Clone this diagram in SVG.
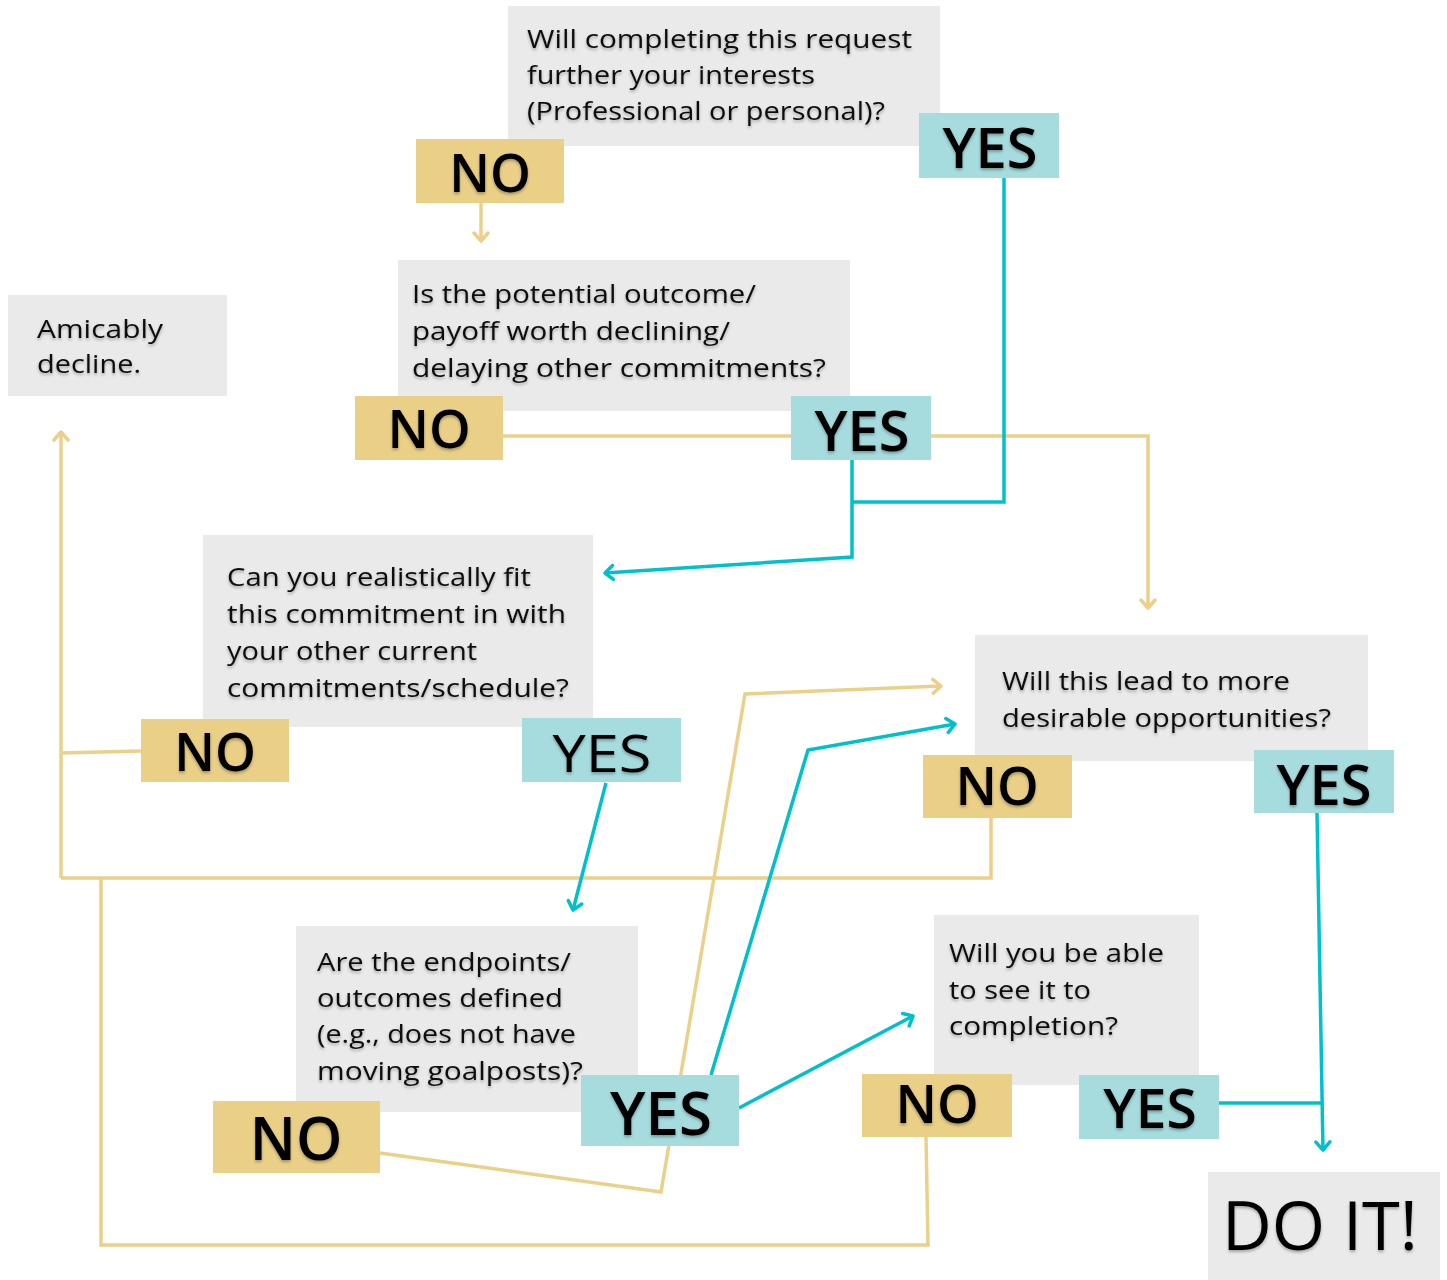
<svg xmlns="http://www.w3.org/2000/svg" width="1447" height="1280" viewBox="0 0 1447 1280">
<defs>
<filter id="sh" x="-10%" y="-20%" width="120%" height="150%">
<feDropShadow dx="0" dy="2" stdDeviation="1.5" flood-color="#000" flood-opacity="0.3"/>
</filter>
<marker id="ag" viewBox="0 0 20 20" refX="10" refY="10" markerWidth="20" markerHeight="20" markerUnits="userSpaceOnUse" orient="auto">
<path d="M2,3 L10,10 L2,17" fill="none" stroke="#EBD08A" stroke-width="3.5" stroke-linecap="round" stroke-linejoin="round"/>
</marker>
<marker id="at" viewBox="0 0 20 20" refX="10" refY="10" markerWidth="20" markerHeight="20" markerUnits="userSpaceOnUse" orient="auto">
<path d="M2,3 L10,10 L2,17" fill="none" stroke="#00C0CC" stroke-width="3.5" stroke-linecap="round" stroke-linejoin="round"/>
</marker>
</defs>
<style>
.box{fill:#EAEAEA}
.no{fill:#EACF87}
.yes{fill:#A6DCDE}
.t{font-family:"Open Sans","Liberation Sans",sans-serif;font-size:26px;fill:#111;filter:url(#sh)}
.lb{font-family:"Open Sans","Liberation Sans",sans-serif;font-weight:600;fill:#000;text-anchor:middle;filter:url(#sh)}
.lb.reg{font-weight:400}
.g{fill:none;stroke:#EBD08A;stroke-width:3.5}
.c{fill:none;stroke:#00C0CC;stroke-width:3.5}
</style>
<rect width="1447" height="1280" fill="#fff"/>

<g id="connectors">
<path class="g" d="M481,203 V241" marker-end="url(#ag)"/>
<path class="g" d="M503,436 H791"/>
<path class="g" d="M931,436 H1148 V608" marker-end="url(#ag)"/>
<path class="c" d="M1004,178 V502 H852"/>
<path class="c" d="M852,460 V557 L605,573" marker-end="url(#at)"/>
<path class="g" d="M141,751 L61,753"/>
<path class="g" d="M61,878 V432" marker-end="url(#ag)"/>
<path class="g" d="M991,818 V878 H61"/>
<path class="g" d="M101,878 V1245 H928 L926,1137"/>
<path class="c" d="M606,783 L573,910" marker-end="url(#at)"/>
<path class="g" d="M380,1153 L661,1192 L745,694 L941,686" marker-end="url(#ag)"/>
<path class="c" d="M711,1075 L808,750 L955,724" marker-end="url(#at)"/>
<path class="c" d="M739,1108 L913,1016" marker-end="url(#at)"/>
<path class="c" d="M1219,1103 H1322"/>
<path class="c" d="M1317,813 L1323,1150" marker-end="url(#at)"/>
</g>

<g id="q1">
<rect class="box" x="508" y="6" width="432" height="140"/>
<text class="t" x="527" y="48" textLength="385" lengthAdjust="spacingAndGlyphs">Will completing this request</text>
<text class="t" x="527" y="84" textLength="288" lengthAdjust="spacingAndGlyphs">further your interests</text>
<text class="t" x="527" y="120" textLength="358" lengthAdjust="spacingAndGlyphs">(Professional or personal)?</text>
</g>
<g id="q1-no">
<rect class="no" x="416" y="139" width="148" height="64"/>
<text class="lb" x="490" y="192" font-size="52">NO</text>
</g>
<g id="q1-yes">
<rect class="yes" x="919" y="113" width="140" height="65"/>
<text class="lb" x="990" y="168" font-size="56">YES</text>
</g>

<g id="q2">
<rect class="box" x="398" y="260" width="452" height="151"/>
<text class="t" x="412" y="303" textLength="344" lengthAdjust="spacingAndGlyphs">Is the potential outcome/</text>
<text class="t" x="412" y="340" textLength="318" lengthAdjust="spacingAndGlyphs">payoff worth declining/</text>
<text class="t" x="412" y="377" textLength="414" lengthAdjust="spacingAndGlyphs">delaying other commitments?</text>
</g>
<g id="q2-no">
<rect class="no" x="355" y="396" width="148" height="64"/>
<text class="lb" x="429" y="448" font-size="53">NO</text>
</g>
<g id="q2-yes">
<rect class="yes" x="791" y="396" width="140" height="64"/>
<text class="lb" x="862" y="451" font-size="56">YES</text>
</g>

<g id="decline">
<rect class="box" x="8" y="295" width="219" height="101"/>
<text class="t" x="37" y="338" textLength="126" lengthAdjust="spacingAndGlyphs">Amicably</text>
<text class="t" x="37" y="373" textLength="104" lengthAdjust="spacingAndGlyphs">decline.</text>
</g>

<g id="q3">
<rect class="box" x="203" y="535" width="390" height="192"/>
<text class="t" x="227" y="586" textLength="304" lengthAdjust="spacingAndGlyphs">Can you realistically fit</text>
<text class="t" x="227" y="623" textLength="339" lengthAdjust="spacingAndGlyphs">this commitment in with</text>
<text class="t" x="227" y="660" textLength="250" lengthAdjust="spacingAndGlyphs">your other current</text>
<text class="t" x="227" y="697" textLength="342" lengthAdjust="spacingAndGlyphs">commitments/schedule?</text>
</g>
<g id="q3-no">
<rect class="no" x="141" y="719" width="148" height="63"/>
<text class="lb" x="215" y="771" font-size="52">NO</text>
</g>
<g id="q3-yes">
<rect class="yes" x="522" y="718" width="159" height="64"/>
<text class="lb reg" x="602" y="772" font-size="52" textLength="99" lengthAdjust="spacingAndGlyphs">YES</text>
</g>

<g id="q4">
<rect class="box" x="975" y="635" width="393" height="126"/>
<text class="t" x="1002" y="690" textLength="288" lengthAdjust="spacingAndGlyphs">Will this lead to more</text>
<text class="t" x="1002" y="727" textLength="329" lengthAdjust="spacingAndGlyphs">desirable opportunities?</text>
</g>
<g id="q4-no">
<rect class="no" x="923" y="755" width="149" height="63"/>
<text class="lb" x="997" y="805" font-size="53">NO</text>
</g>
<g id="q4-yes">
<rect class="yes" x="1254" y="750" width="140" height="63"/>
<text class="lb" x="1324" y="805" font-size="56">YES</text>
</g>

<g id="q5">
<rect class="box" x="296" y="926" width="342" height="186"/>
<text class="t" x="317" y="971" textLength="254" lengthAdjust="spacingAndGlyphs">Are the endpoints/</text>
<text class="t" x="317" y="1007" textLength="246" lengthAdjust="spacingAndGlyphs">outcomes defined</text>
<text class="t" x="317" y="1043" textLength="259" lengthAdjust="spacingAndGlyphs">(e.g., does not have</text>
<text class="t" x="317" y="1080" textLength="266" lengthAdjust="spacingAndGlyphs">moving goalposts)?</text>
</g>
<g id="q5-no">
<rect class="no" x="213" y="1101" width="167" height="72"/>
<text class="lb" x="296" y="1160" font-size="59">NO</text>
</g>
<g id="q5-yes">
<rect class="yes" x="581" y="1075" width="158" height="71"/>
<text class="lb" x="661" y="1135" font-size="60">YES</text>
</g>

<g id="q6">
<rect class="box" x="934" y="915" width="265" height="170"/>
<text class="t" x="949" y="962" textLength="215" lengthAdjust="spacingAndGlyphs">Will you be able</text>
<text class="t" x="949" y="999" textLength="142" lengthAdjust="spacingAndGlyphs">to see it to</text>
<text class="t" x="949" y="1035" textLength="169" lengthAdjust="spacingAndGlyphs">completion?</text>
</g>
<g id="q6-no">
<rect class="no" x="862" y="1074" width="150" height="63"/>
<text class="lb" x="937" y="1123" font-size="53">NO</text>
</g>
<g id="q6-yes">
<rect class="yes" x="1079" y="1075" width="140" height="64"/>
<text class="lb" x="1150" y="1128" font-size="55">YES</text>
</g>

<g id="doit">
<rect class="box" x="1208" y="1172" width="232" height="108"/>
<text class="lb reg" x="1320" y="1250" font-size="67" textLength="196" lengthAdjust="spacingAndGlyphs">DO IT!</text>
</g>
</svg>
